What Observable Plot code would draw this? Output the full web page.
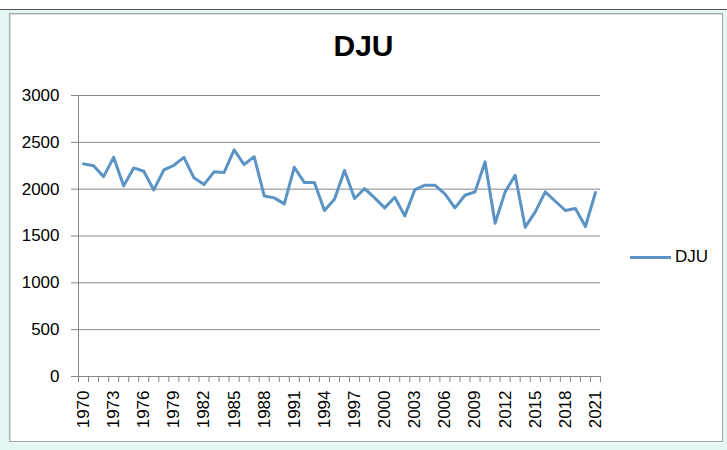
<!DOCTYPE html>
<html>
<head>
<meta charset="utf-8">
<script src="https://cdn.jsdelivr.net/npm/d3@7"></script>
<script src="https://cdn.jsdelivr.net/npm/@observablehq/plot@0.6"></script>
<style>
  html, body { margin: 0; padding: 0; background: #ffffff; }
  #wrap { position: relative; width: 727px; height: 450px; overflow: hidden; background: #e6f5f5; font-family: "Liberation Sans", Arial, sans-serif; }
  #ruler { position: absolute; left: 0; top: 0; width: 727px; height: 9px; background: #ffffff; border-bottom: 1px solid #555; }
  #frame { position: absolute; left: 9px; top: 13px; width: 712px; height: 427px; background: #ffffff; border: 1px solid #9fa8a8; box-shadow: inset 1px 1px 0 #d8dede; }
  #chart { position: absolute; left: 0; top: 0; }
  #title { position: absolute; left: 0; width: 727px; top: 29px; text-align: center; font-size: 30px; font-weight: bold; color: #000; }
  #legend { position: absolute; left: 630px; top: 247px; font-size: 17px; color: #000; display: flex; align-items: center; }
  #legend .sw { width: 41px; height: 3px; background: #5b93c5; margin-right: 4px; }
</style>
</head>
<body>
<div id="wrap">
  <div id="ruler"></div>
  <div id="frame"></div>
  <div id="chart"></div>
  <div id="title">DJU</div>
  <div id="legend"><span class="sw"></span><span>DJU</span></div>
</div>
<script>
const years = d3.range(1970, 2022);
const dju = [
  2270, 2249, 2134, 2340, 2035, 2227, 2191, 1992, 2206, 2255,
  2340, 2121, 2049, 2185, 2177, 2419, 2263, 2348, 1928, 1907,
  1843, 2234, 2070, 2070, 1772, 1892, 2199, 1900, 2006, 1907,
  1800, 1914, 1715, 1992, 2042, 2042, 1950, 1800, 1935, 1971,
  2291, 1636, 1971, 2148, 1594, 1758, 1971, 1871, 1772, 1793,
  1601, 1964
];
const yTicks = [0, 500, 1000, 1500, 2000, 2500, 3000];
const xLabelYears = d3.range(1970, 2022, 3);
const xBoundaries = d3.range(1969.5, 2022, 1);

const data = years.map((y, i) => ({year: y, value: dju[i]}));

const chart = Plot.plot({
  width: 727,
  height: 450,
  marginLeft: 78,
  marginRight: 127,
  marginTop: 95,
  marginBottom: 74,
  style: {fontFamily: "Liberation Sans, Arial, sans-serif", fontSize: "17px", background: "transparent", color: "#000"},
  x: {domain: [1969.5, 2021.5]},
  y: {domain: [0, 3000]},
  marks: [
    Plot.gridY(yTicks, {stroke: "#868686", strokeOpacity: 1, strokeWidth: 1}),
    Plot.axisY({ticks: yTicks, tickSize: 7, tickPadding: 12, tickFormat: d => String(d), stroke: "#868686", fill: "#000", fontSize: 17, label: null}),
    Plot.ruleX([1969.5], {stroke: "#868686", strokeWidth: 1}),
    Plot.axisX({ticks: xBoundaries, tickSize: 6, tickFormat: () => "", stroke: "#868686", label: null}),
    Plot.axisX({ticks: xLabelYears, tickSize: 0, tickPadding: 14, tickRotate: -90, tickFormat: d => String(d), fill: "#000", fontSize: 17, label: null}),
    Plot.line(data, {x: "year", y: "value", stroke: "#5b93c5", strokeWidth: 3, strokeLinejoin: "round", strokeLinecap: "round"})
  ]
});
document.getElementById("chart").appendChild(chart);
</script>
</body>
</html>
